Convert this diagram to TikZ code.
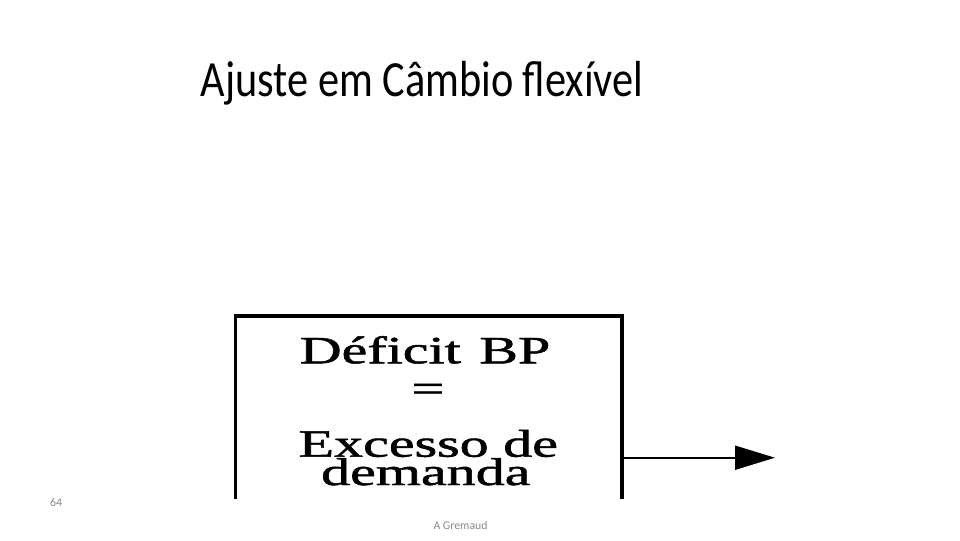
\documentclass[tikz,border=0pt]{standalone}
\usepackage{fontspec}
\setmainfont{Carlito}
\newfontfamily\boxfont[FakeBold=1.2]{Liberation Serif}
\usetikzlibrary{arrows.meta}
\definecolor{footgray}{HTML}{898989}
\tikzset{
  boxline/.style={line width=2.7pt, line cap=rect},
  boxtext/.style={font=\boxfont\fontsize{29pt}{30pt}\selectfont, anchor=base, inner sep=0pt, xscale=1.5, text depth=0pt},
  footer/.style={font=\fontsize{8.8pt}{9pt}\selectfont, text=footgray, anchor=base, inner sep=0pt},
  flow/.style={line width=1.5pt, -{Triangle[length=30pt,width=18pt]}}
}
\begin{document}
\begin{tikzpicture}[x=0.75pt,y=-0.75pt]
\useasboundingbox (0,0) rectangle (960,540);
\node[font=\fontsize{38pt}{44pt}\selectfont, anchor=base, inner sep=0pt, xscale=0.835] (title) at (422,96.7) {Ajuste em Câmbio flexível};
% box (bottom edge outside the slide crop)
\coordinate (bl) at (235.3,497);
\coordinate (tl) at (235.3,315.7);
\coordinate (tr) at (621.7,315.7);
\coordinate (br) at (621.7,497);
\draw[boxline] (bl) -- (tl) -- (tr) -- (br);
\node[boxtext] (l1) at (425,363.3) {Déficit\hspace{0.32em}BP};
\node[boxtext] (l2) at (428,401.5) {=};
\node[boxtext] (l3) at (428.3,456.7) {Excesso de};
\node[boxtext, text height=17pt] (l4) at (425.8,485) {demanda};
\coordinate (as) at (621.7,457.7);
\coordinate (ae) at (775,457.7);
\draw[flow] (as) -- (ae);
\node[footer] (num) at (56,506.7) {64};
\node[footer] (auth) at (460.5,529.3) {A Gremaud};
\end{tikzpicture}
\end{document}
